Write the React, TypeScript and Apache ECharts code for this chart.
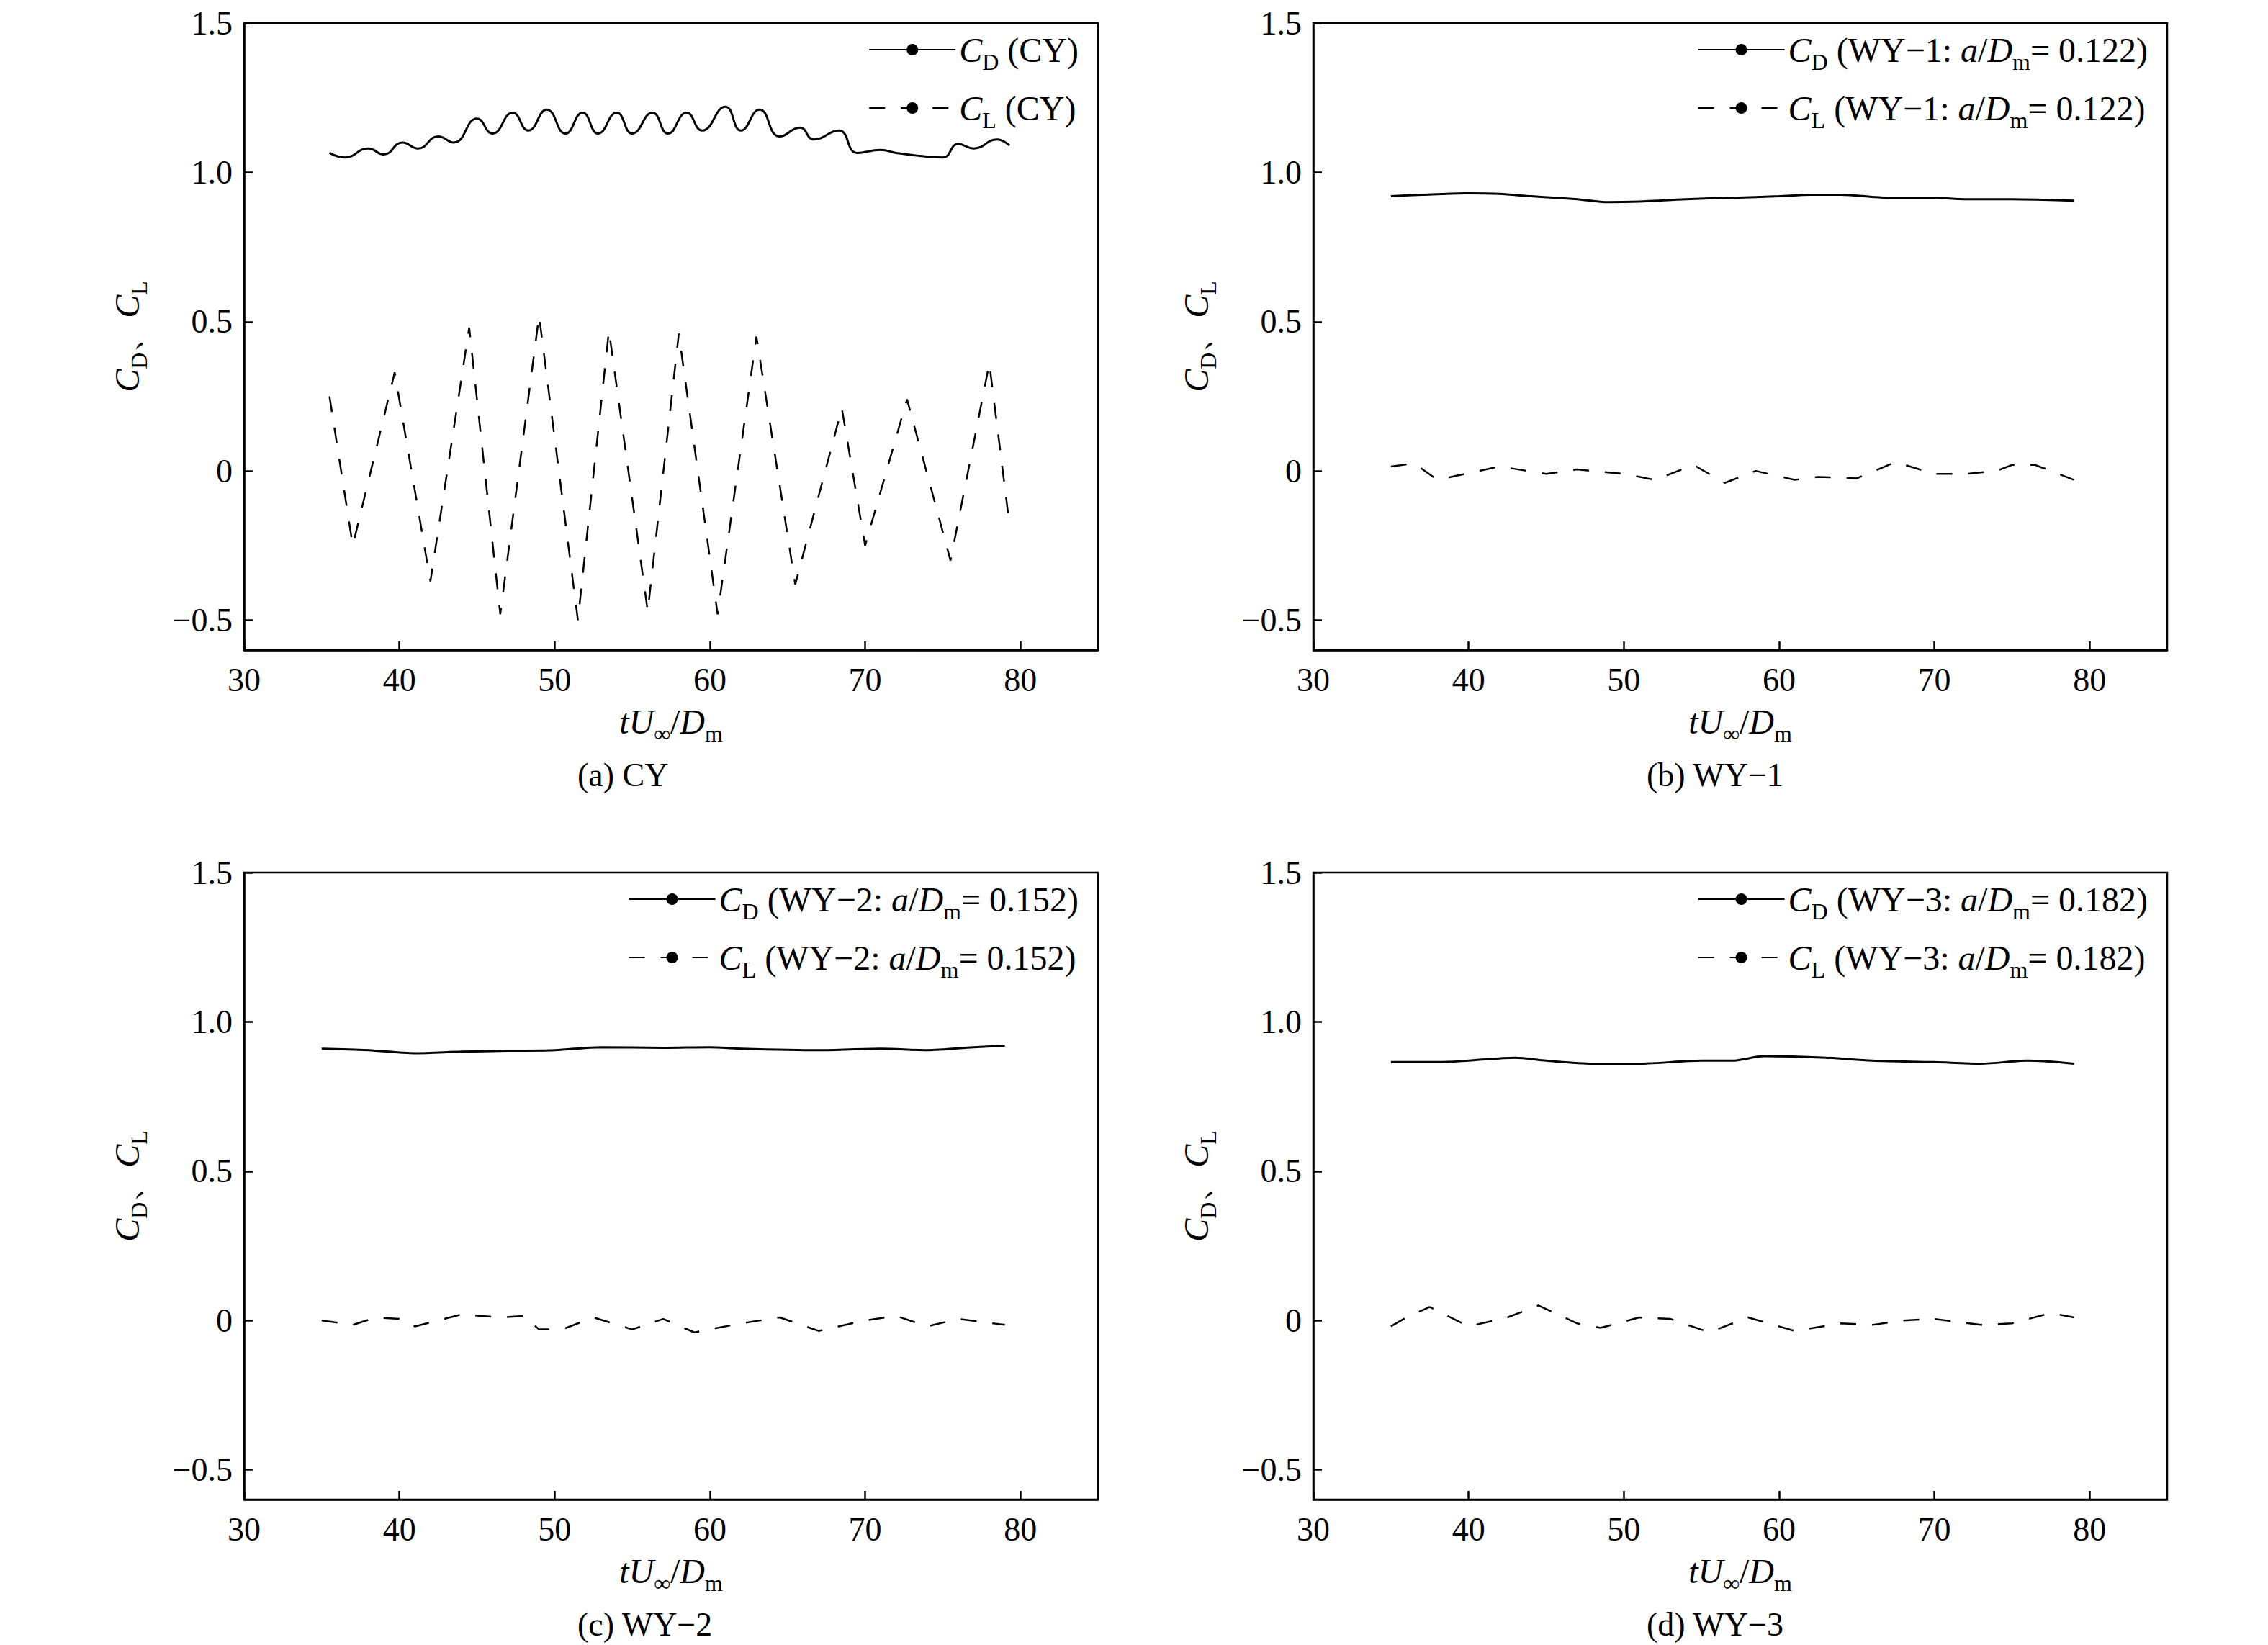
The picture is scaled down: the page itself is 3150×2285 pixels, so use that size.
import React, { useEffect, useRef } from "react";
import * as echarts from "echarts";

const cyCdX = [35.5,36.5,38,39,40.2,41.2,42.5,43.5,45,46,47.3,48.3,49.5,50.7,51.8,52.8,54,55,56.3,57.3,58.5,59.5,61,62,63.2,64.5,65.8,66.7,68.3,69.5,71,72,73.5,75,76,77,78.5,79.3];
const cyCdY = [1.065,1.05,1.08,1.06,1.10,1.08,1.12,1.10,1.18,1.13,1.20,1.14,1.21,1.13,1.20,1.13,1.20,1.13,1.20,1.13,1.20,1.14,1.22,1.14,1.21,1.12,1.15,1.11,1.14,1.065,1.075,1.065,1.055,1.05,1.095,1.08,1.11,1.09];
const cyClX = [35.5,37,39.7,42,44.5,46.5,49,51.5,53.5,56,58,60.5,63,65.5,68.5,70,72.7,75.5,78,79.3];
const cyClY = [0.25,-0.25,0.33,-0.37,0.48,-0.48,0.52,-0.5,0.47,-0.47,0.46,-0.48,0.45,-0.38,0.21,-0.25,0.24,-0.3,0.36,-0.18];
const w1CdX = [35,37,40,42,44,47,49,51,54,57,60,62,64,67,70,72,75,77,79];
const w1CdY = [0.92,0.925,0.93,0.928,0.92,0.91,0.90,0.902,0.91,0.915,0.92,0.925,0.925,0.915,0.915,0.91,0.91,0.908,0.905];
const w1ClX = [35,36.5,38,42,45,47,50,52,54.5,56.5,58.5,61,62.5,65,67.5,70,72,74,75,76.5,79];
const w1ClY = [0.015,0.025,-0.03,0.015,-0.01,0.005,-0.01,-0.03,0.02,-0.04,0,-0.03,-0.02,-0.025,0.03,-0.01,-0.01,0,0.02,0.02,-0.03];
const w2CdX = [35,38,41,44,47,50,53,57,60,62,67,71,74,77,79];
const w2CdY = [0.91,0.905,0.895,0.90,0.903,0.905,0.915,0.913,0.915,0.91,0.905,0.91,0.905,0.915,0.92];
const w2ClX = [35,37,38.5,40,41,44,46.5,48,49,50.5,52.5,55,57,59,62,64.5,67,70,72,74,76,79];
const w2ClY = [0,-0.015,0.01,0.005,-0.02,0.02,0.01,0.015,-0.03,-0.03,0.01,-0.03,0.005,-0.04,-0.01,0.01,-0.035,0,0.015,-0.02,0.005,-0.015];
const w3CdX = [35,38,40,43,45,48,51,55,57,59,63,66,70,73,76,79];
const w3CdY = [0.865,0.865,0.87,0.88,0.87,0.86,0.86,0.87,0.87,0.885,0.88,0.87,0.865,0.86,0.87,0.86];
const w3ClX = [35,36,37.5,40,42.5,44.5,47,48.5,51,53,55.5,58,61,64,66,68,70,73,75,77.5,79];
const w3ClY = [-0.02,0.01,0.045,-0.02,0.01,0.05,-0.01,-0.025,0.01,0.005,-0.04,0.01,-0.035,-0.01,-0.015,0,0.005,-0.015,-0.01,0.025,0.01];

const yTicks = [-0.5,0,0.5,1.0,1.5];
const captions = ["(a) CY", "(b) WY\u22121", "(c) WY\u22122", "(d) WY\u22123"];
const aValues = ["", "0.122", "0.152", "0.182"];
const panels = [
  [cyCdX, cyCdY, cyClX, cyClY],
  [w1CdX, w1CdY, w1ClX, w1ClY],
  [w2CdX, w2CdY, w2ClX, w2ClY],
  [w3CdX, w3CdY, w3ClX, w3ClY],
];

const FONT = "Liberation Serif";

export default function App() {
  const ref = useRef<HTMLDivElement>(null);
  useEffect(() => {
    const chart = echarts.init(ref.current!, null, { renderer: "svg" });
    const lefts = [339, 1824];
    const tops = [32, 1212];
    const W = 1186, H = 871;
    const grids: any[] = [], xAxes: any[] = [], yAxes: any[] = [], series: any[] = [], legends: any[] = [], graphics: any[] = [];
    const rich = {
      i: { fontFamily: FONT, fontSize: 48, fontStyle: "italic", color: "#000" },
      s: { fontFamily: FONT, fontSize: 32, color: "#000", verticalAlign: "bottom", padding: [34, 0, 0, 0] },
      t: { fontFamily: FONT, fontSize: 48, color: "#000" },
    };
    for (let p = 0; p < 4; p++) {
      const left = lefts[p % 2], top = tops[Math.floor(p / 2)];
      grids.push({ left, top, width: W, height: H, show: true, borderColor: "#000", borderWidth: 2.5, backgroundColor: "transparent" });
      xAxes.push({
        type: "value", gridIndex: p, min: 30, max: 85, interval: 10,
        axisLine: { onZero: false, lineStyle: { color: "#000", width: 2.5 } },
        axisTick: { inside: true, length: 12, lineStyle: { color: "#000", width: 2.5 } },
        axisLabel: { fontFamily: FONT, fontSize: 46, color: "#000", margin: 18, showMaxLabel: false },
        splitLine: { show: false },
        name: "{i|tU}{s|\u221e}{t|/}{i|D}{s|m}", nameLocation: "middle", nameGap: 66,
        nameTextStyle: { rich },
      });
      yAxes.push({
        type: "value", gridIndex: p, min: -0.6, max: 1.5,
        axisLine: { onZero: false, lineStyle: { color: "#000", width: 2.5 } },
        axisTick: { inside: true, length: 12, lineStyle: { color: "#000", width: 2.5 }, customValues: yTicks },
        axisLabel: {
          fontFamily: FONT, fontSize: 46, color: "#000", margin: 16, customValues: yTicks,
          formatter: (v: number) => (v === 0 ? "0" : v < 0 ? "\u2212" + Math.abs(v).toFixed(1) : v.toFixed(1)),
        },
        splitLine: { show: false },
        name: "{i|C}{s|D}{t|\u3001}{i|C}{s|L}", nameLocation: "middle", nameGap: 130, nameRotate: 90,
        nameTextStyle: { rich },
      });
      const [cdx, cdy, clx, cly] = panels[p];
      const cdName = "CD" + p, clName = "CL" + p;
      series.push({
        type: "line", name: cdName, xAxisIndex: p, yAxisIndex: p, smooth: p === 0 ? 0.5 : 0.3, symbol: "none",
        data: cdx.map((x, i) => [x, cdy[i]]), lineStyle: { color: "#000", width: 3 }, itemStyle: { color: "#000" },
      });
      series.push({
        type: "line", name: clName, xAxisIndex: p, yAxisIndex: p, symbol: "none",
        data: clx.map((x, i) => [x, cly[i]]), lineStyle: { color: "#000", width: 2.5, type: [22, 22] }, itemStyle: { color: "#000" },
      });
      const tag = p === 0 ? "(CY)" : `(WY\u2212${p}: `;
      const tail = p === 0 ? "" : `{i|a}{t|/}{i|D}{s|m}{t|= ${aValues[p]})}`;
      legends.push({
        data: [cdName, clName], orient: "vertical",
        right: 3150 - (left + W) + 22, top: top + 8, itemGap: 24,
        itemWidth: 120, itemHeight: 20,
        textStyle: { rich },
        formatter: (n: string) => (n.startsWith("CD") ? `{i|C}{s|D}{t| ${tag}}` : `{i|C}{s|L}{t| ${tag}}`) + tail,
      });
      graphics.push({
        type: "text", left: left + W / 2 - 130, top: top + H + 150,
        style: { text: captions[p], font: `46px '${FONT}'`, fill: "#000" },
      });
    }
    chart.setOption({
      animation: false,
      backgroundColor: "#fff",
      grid: grids, xAxis: xAxes, yAxis: yAxes, series, legend: legends, graphic: graphics,
    });
    return () => chart.dispose();
  }, []);
  return <div ref={ref} style={{ position: "fixed", left: 0, top: 0, width: 3150, height: 2285 }} />;
}
